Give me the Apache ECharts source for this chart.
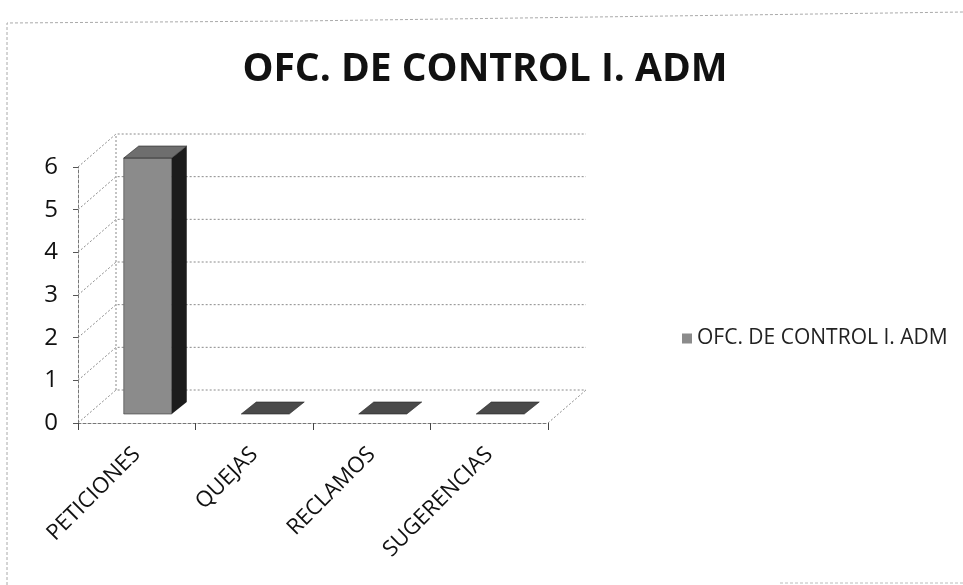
<!DOCTYPE html>
<html>
<head>
<meta charset="utf-8">
<script src="https://cdn.jsdelivr.net/npm/echarts@6/dist/echarts.min.js"></script>
<style>
  html, body { margin: 0; padding: 0; background: #fff; }
  #chart { width: 963px; height: 585px; }
</style>
</head>
<body>
<div id="chart"></div>
<script>
// datos del gráfico
const categorias = ['PETICIONES', 'QUEJAS', 'RECLAMOS', 'SUGERENCIAS'];
const valores = [6, 0, 0, 0];
const marcasEjeY = [0, 1, 2, 3, 4, 5, 6];
const nombreSerie = 'OFC. DE CONTROL I. ADM';

// desplazamientos de la "profundidad" 3D (pared del fondo y barras)
const FONDO = { dx: 38, dy: -33 };
const BARRA = { ox: 11, oy: -9, dx: 15, dy: -12, ancho: 48 };

const chart = echarts.init(document.getElementById('chart'));

// pared del fondo: líneas de la cuadrícula desplazadas + diagonales
function dibujaPared(params, api) {
  const v = api.value(0);
  const banda = api.size([1, 0])[0];
  const pIzq = api.coord([0, v]);
  const pDer = api.coord([categorias.length - 1, v]);
  const x0 = pIzq[0] - banda / 2;
  const x1 = pDer[0] + banda / 2;
  const y = pIzq[1];
  const estilo = { stroke: '#8a8a8a', fill: 'none', lineWidth: 1, lineDash: [2, 2] };
  const hijos = [
    { type: 'polyline', shape: { points: [[x0, y], [x0 + FONDO.dx, y + FONDO.dy], [x1 + FONDO.dx, y + FONDO.dy]] }, style: estilo, silent: true }
  ];
  if (v === 0) {
    hijos.push({ type: 'line', shape: { x1: x1, y1: y, x2: x1 + FONDO.dx, y2: y + FONDO.dy }, style: estilo, silent: true });
    const yTop = api.coord([0, marcasEjeY[marcasEjeY.length - 1]])[1];
    hijos.push({ type: 'line', shape: { x1: x0 + FONDO.dx, y1: y + FONDO.dy, x2: x0 + FONDO.dx, y2: yTop + FONDO.dy }, style: estilo, silent: true });
  }
  return { type: 'group', children: hijos };
}

// barras en falso 3D: cara frontal, superior y lateral
function dibujaBarra(params, api) {
  const c = api.coord([api.value(0), api.value(1)]);
  const base = api.coord([api.value(0), 0]);
  const xl = c[0] - BARRA.ancho / 2 + BARRA.ox;
  const xr = c[0] + BARRA.ancho / 2 + BARRA.ox;
  const yt = c[1] + BARRA.oy;
  const yb = base[1] + BARRA.oy;
  const alta = yb - yt > 0.5;
  const hijos = [];
  if (alta) {
    hijos.push({ type: 'rect', shape: { x: xl, y: yt, width: xr - xl, height: yb - yt }, style: { fill: '#8b8b8b', stroke: '#3a3a3a', lineWidth: 0.6 } });
    hijos.push({ type: 'polygon', shape: { points: [[xr, yt], [xr + BARRA.dx, yt + BARRA.dy], [xr + BARRA.dx, yb + BARRA.dy], [xr, yb]] }, style: { fill: '#1c1c1c' } });
  }
  hijos.push({ type: 'polygon', shape: { points: [[xl, yt], [xr, yt], [xr + BARRA.dx, yt + BARRA.dy], [xl + BARRA.dx, yt + BARRA.dy]] }, style: { fill: alta ? '#6e6e6e' : '#4a4a4a', stroke: '#222', lineWidth: 0.6 } });
  return { type: 'group', children: hijos };
}

const option = {
  backgroundColor: '#fff',
  animation: false,
  title: {
    text: 'OFC. DE CONTROL I. ADM',
    left: 480,
    textAlign: 'center',
    top: 45,
    textStyle: { fontFamily: 'Open Sans', fontWeight: 'bold', fontSize: 39, color: '#111' }
  },
  legend: {
    data: [nombreSerie],
    left: 677,
    top: 323,
    icon: 'rect',
    itemWidth: 10,
    itemHeight: 10,
    itemGap: 6,
    textStyle: { fontFamily: 'Open Sans', fontSize: 21, color: '#222' }
  },
  grid: { left: 78, right: 415, top: 167, bottom: 162 },
  xAxis: {
    type: 'category',
    data: categorias,
    axisLine: { lineStyle: { color: '#777', type: [3, 2], width: 1 } },
    axisTick: { show: true, length: 7, lineStyle: { color: '#444' } },
    axisLabel: { rotate: 45, margin: 28, fontFamily: 'Open Sans', fontSize: 22, color: '#111' }
  },
  yAxis: {
    type: 'value',
    min: 0,
    max: 6,
    interval: 1,
    axisLine: { show: true, lineStyle: { color: '#777', type: [3, 2], width: 1 } },
    axisTick: { show: true, length: 5, lineStyle: { color: '#555' } },
    splitLine: { show: false },
    axisLabel: { margin: 20, fontFamily: 'Open Sans', fontSize: 24, color: '#111' }
  },
  graphic: [
    { type: 'polyline', shape: { points: [[7, 585], [7, 23], [300, 21], [963, 12]] }, style: { stroke: '#aaa', lineWidth: 1, lineDash: [3, 2], fill: 'none' }, silent: true },
    { type: 'line', shape: { x1: 780, y1: 583, x2: 963, y2: 583 }, style: { stroke: '#bbb', lineWidth: 1, lineDash: [3, 2] }, silent: true }
  ],
  series: [
    {
      name: 'pared',
      type: 'custom',
      renderItem: dibujaPared,
      data: marcasEjeY.map(v => [v]),
      encode: { y: 0 },
      silent: true,
      z: 1
    },
    {
      name: nombreSerie,
      type: 'custom',
      renderItem: dibujaBarra,
      data: valores.map((v, i) => [i, v]),
      encode: { x: 0, y: 1 },
      itemStyle: { color: '#8b8b8b' },
      z: 3
    }
  ]
};

chart.setOption(option);
</script>
</body>
</html>
